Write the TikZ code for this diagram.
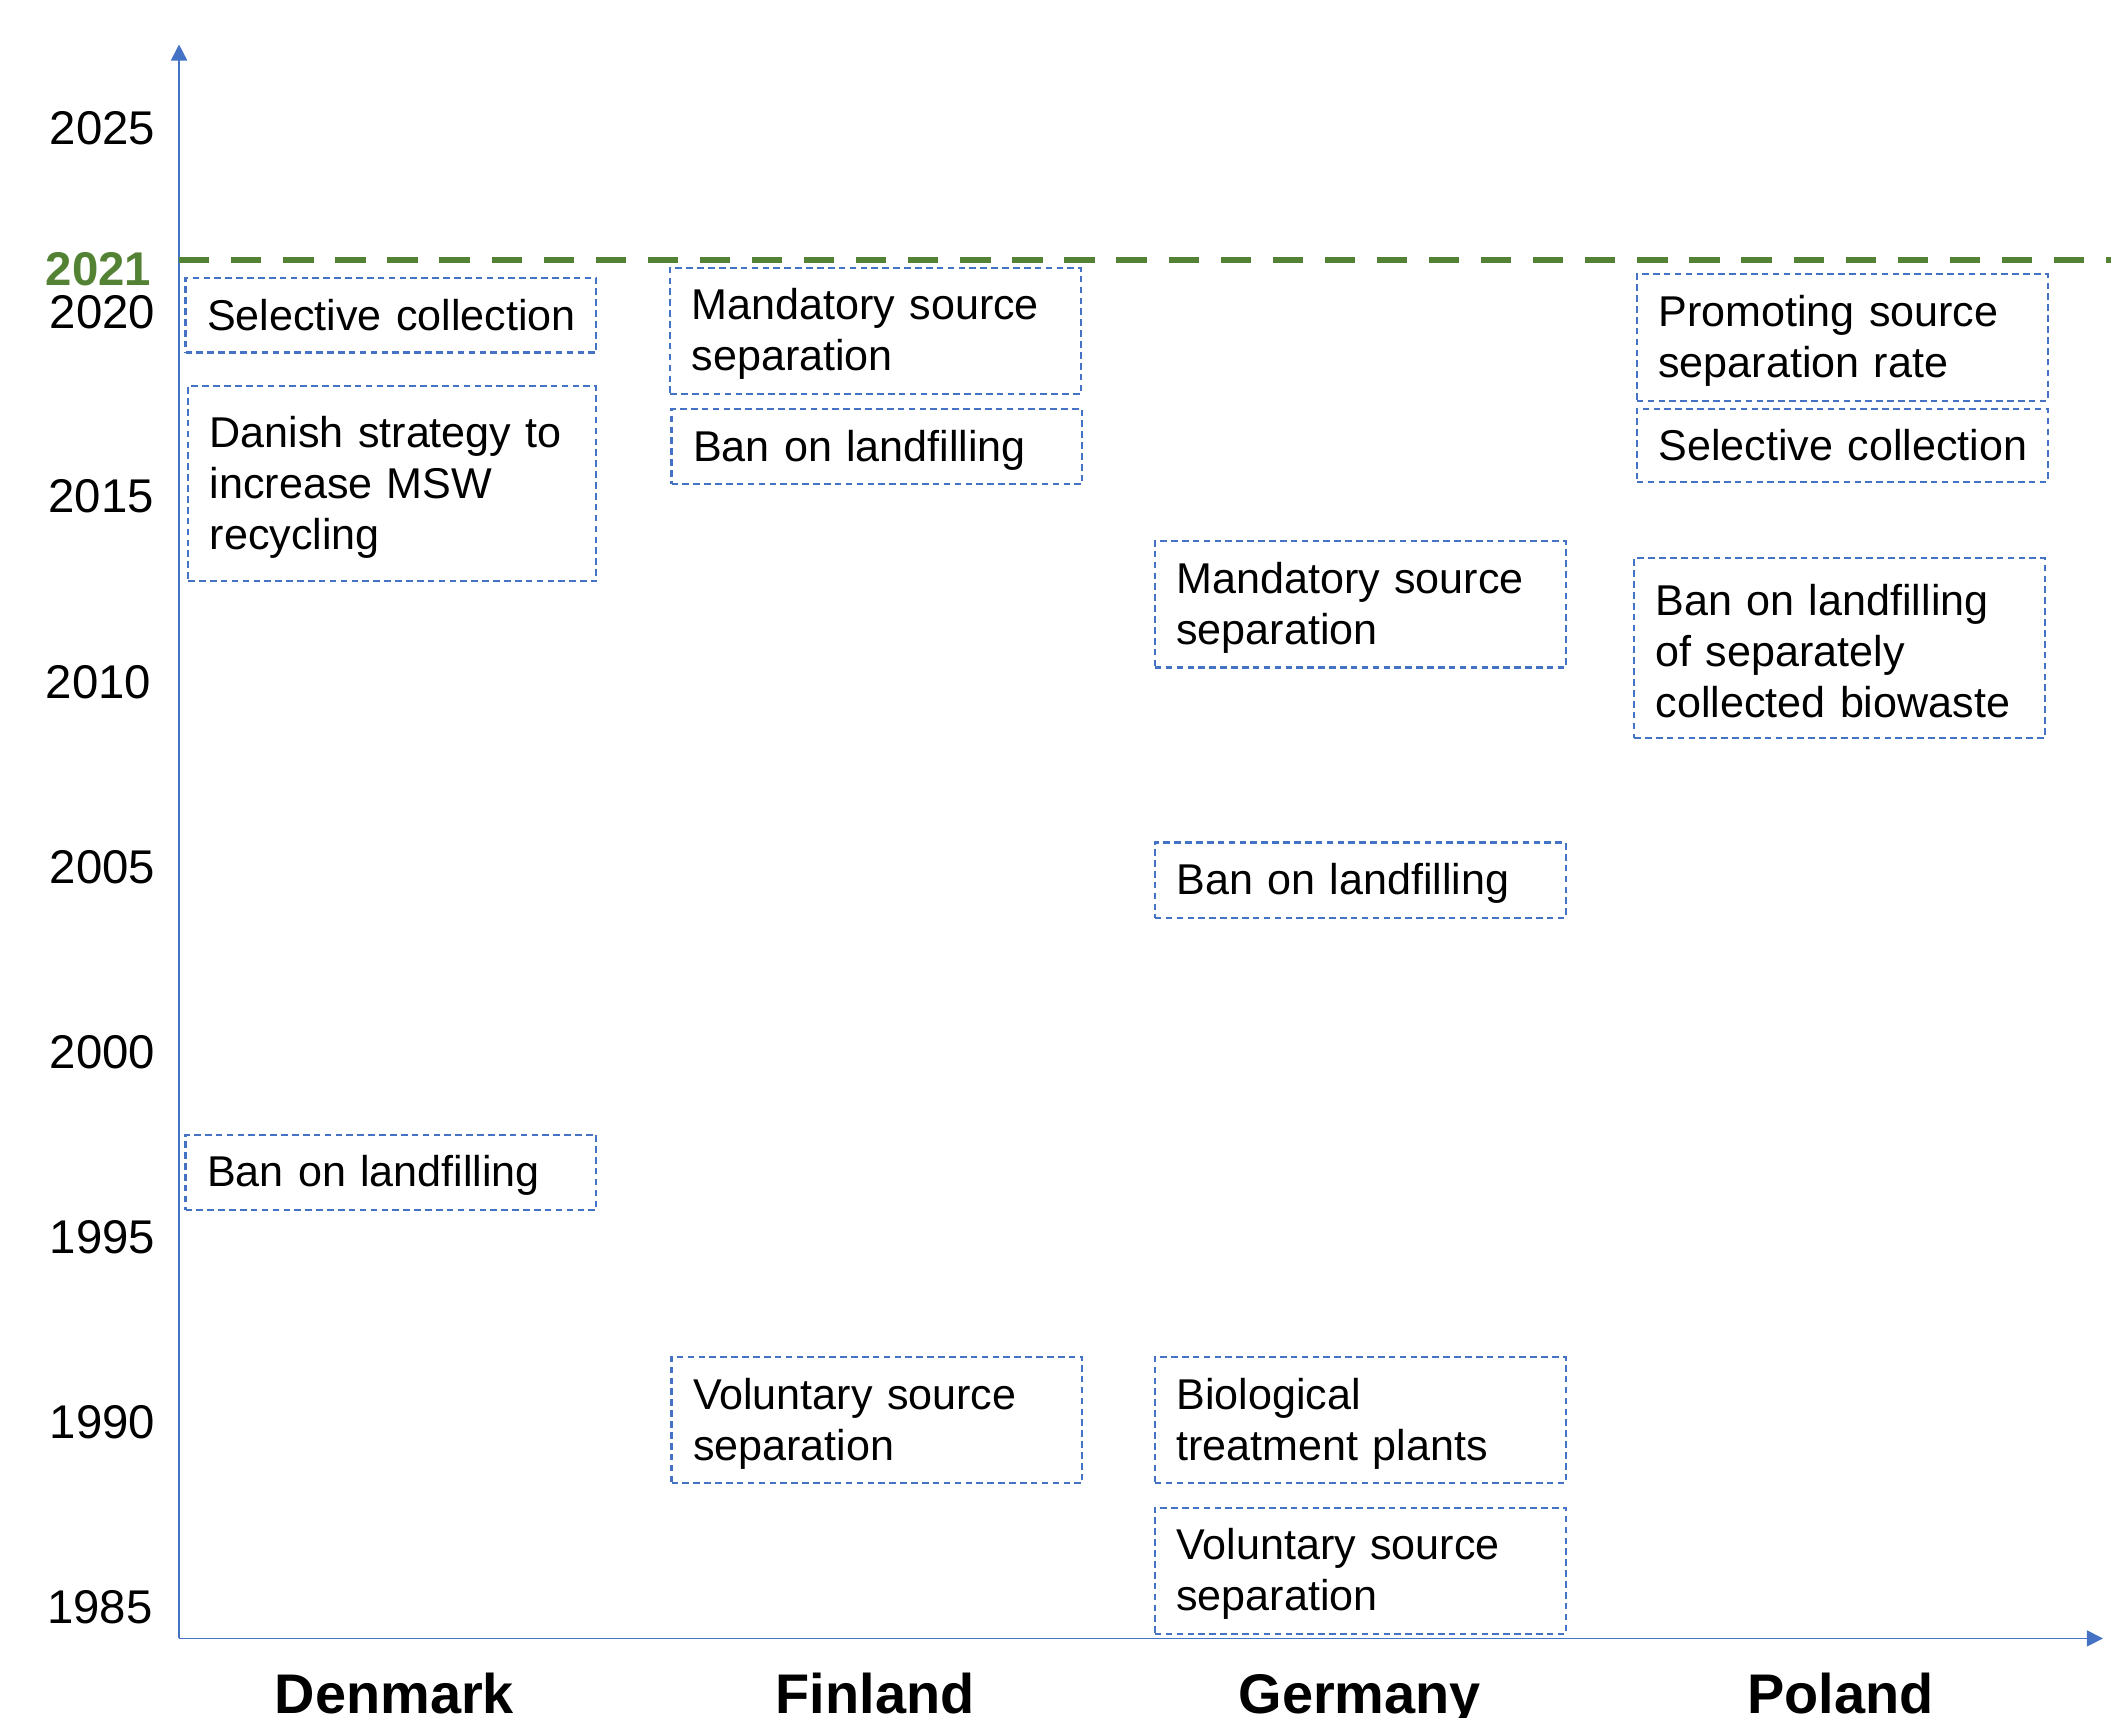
\documentclass[tikz,border=0pt]{standalone}
\usepackage{fontspec}
\setmainfont{Liberation Sans}
\usetikzlibrary{arrows.meta}
\definecolor{axblue}{RGB}{68,114,196}
\definecolor{lgreen}{RGB}{84,130,53}
\begin{document}
\begin{tikzpicture}[x=0.01cm,y=-0.01cm,
  evtbase/.style={draw=axblue, line width=0.45pt, dash pattern=on 1.4pt off 0.9pt,
    inner xsep=0.16cm, inner ysep=0pt, text width=2.73cm, align=left,
    font=\fontsize{9.1}{10.8}\selectfont, anchor=north west},
  evt/.style={evtbase, execute at begin node={\rule{0pt}{8pt}}},
  axis/.style={draw=axblue, line width=0.35pt, -{Triangle[length=3.4pt,width=3.4pt]}},
  year/.style={anchor=base east, inner sep=0pt, font=\fontsize{10}{12}\selectfont},
  country/.style={anchor=base, inner sep=0pt, font=\fontsize{11.8}{14}\selectfont\bfseries},
  refline/.style={draw=lgreen, line width=1.4pt, dash pattern=on 6.4pt off 4.6pt}
]
\useasboundingbox (0,0) rectangle (1568,1276);
% axes
\coordinate (origin) at (133,1217);
\coordinate (ytop) at (133,33);
\coordinate (xend) at (1562,1217);
\draw[axis] (origin) -- (ytop);
\draw[axis] (origin) -- (xend);
% 2021 reference line
\coordinate (gl) at (133,193);
\coordinate (gr) at (1568,193);
\draw[refline] (gl) -- (gr);
% year labels
\node[year] (y2025) at (116,107) {2025};
\node[year] (y2020) at (116,244) {2020};
\node[year] (y2015) at (115,381) {2015};
\node[year] (y2010) at (113,519) {2010};
\node[year] (y2005) at (116,656) {2005};
\node[year] (y2000) at (116,793.5) {2000};
\node[year] (y1995) at (116,931) {1995};
\node[year] (y1990) at (116,1068.5) {1990};
\node[year] (y1985) at (114,1206) {1985};
\node[year, text=lgreen, font=\fontsize{10}{12}\selectfont\bfseries] (y2021) at (113,212) {2021};
% Denmark
\node[evtbase, minimum height=0.55cm] (d1) at (137,206) {\mbox{Selective collection}};
\node[evt, minimum height=1.45cm, text width=2.71cm] (d2) at (139,286) {Danish strategy to\\increase MSW\\recycling};
\node[evt, minimum height=0.56cm] (d3) at (137,842) {Ban on landfilling};
% Finland
\node[evt, minimum height=0.94cm] (f1) at (497,198) {Mandatory source\\separation};
\node[evt, minimum height=0.56cm] (f2) at (498,303) {Ban on landfilling};
\node[evt, minimum height=0.94cm] (f3) at (498,1007) {Voluntary source\\separation};
% Germany
\node[evt, minimum height=0.94cm] (g1) at (857,401) {Mandatory source\\separation};
\node[evt, minimum height=0.56cm] (g2) at (857,625) {Ban on landfilling};
\node[evt, minimum height=0.94cm] (g3) at (857,1007) {Biological\\treatment plants};
\node[evt, minimum height=0.94cm] (g4) at (857,1119) {Voluntary source\\separation};
% Poland
\node[evt, minimum height=0.94cm] (p1) at (1215,203) {Promoting source\\separation rate};
\node[evtbase, minimum height=0.54cm] (p2) at (1215,303) {\mbox{Selective collection}};
\node[evt, minimum height=1.33cm] (p3) at (1213,414) {Ban on landfilling\\of separately\\collected biowaste};
% countries
\node[country] (cd) at (293,1273) {Denmark};
\node[country] (cf) at (650,1273) {Finland};
\node[country] (cg) at (1010,1273) {Germany};
\node[country] (cp) at (1367,1273) {Poland};
\end{tikzpicture}
\end{document}
